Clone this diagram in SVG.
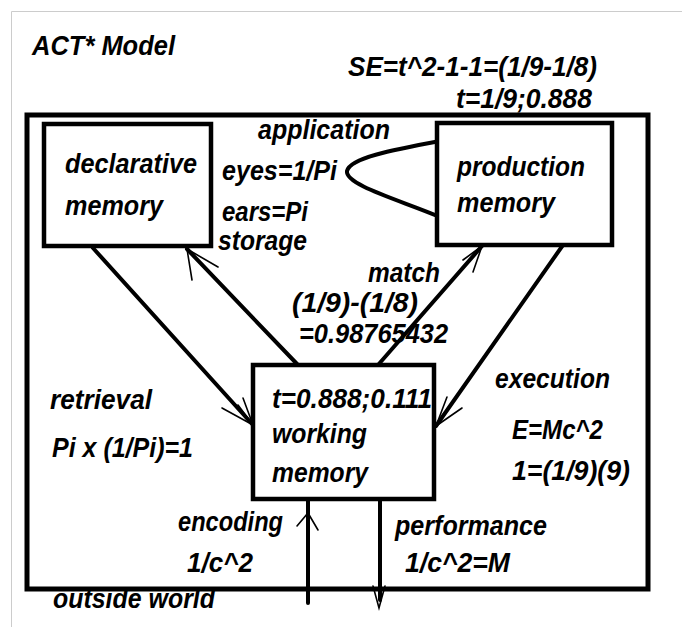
<svg xmlns="http://www.w3.org/2000/svg" width="682" height="627" viewBox="0 0 682 627">
<style>
.t{font-family:"Liberation Sans",Arial,sans-serif;font-style:italic;font-weight:bold;font-size:28px;fill:#000}
.box{fill:#fff;stroke:#000;stroke-width:4.5}
.ln{fill:none;stroke:#000;stroke-width:4;stroke-linecap:round}
.hd{fill:none;stroke:#000;stroke-width:1.6;stroke-linecap:round}
</style>
<rect x="0" y="0" width="682" height="627" fill="#fff"/>
<path d="M11.5,627 V11.5 H682" fill="none" stroke="#ccc" stroke-width="1"/>
<g id="act-frame">
<rect x="27" y="115" width="621" height="474" fill="#fff" stroke="#000" stroke-width="5"/>
</g>
<g id="connectors">
<path class="ln" d="M93,248 L253,425"/>
<path class="hd" d="M253,425 L222,408 M253,425 L243,398 M250,421 L238,405"/>
<path class="ln" d="M298,365 L187,249"/>
<path class="hd" d="M187,249 L192,280 M187,249 L218,267 M190,253 L205,268"/>
<path class="ln" d="M378,365 L482,246"/>
<path class="hd" d="M482,246 L463,260 M482,246 L473,272"/>
<path class="ln" d="M563,245 L436,426"/>
<path class="hd" d="M436,426 L447,397 M436,426 L462,408"/>
<path class="ln" d="M308,500 V603"/>
<path class="hd" d="M297,526 L308,513 L318,530" stroke-width="2"/>
<path class="ln" d="M380,500 V600"/>
<path class="hd" d="M373,586 L379,608 L385,586"/>
<path class="ln" d="M440,141 C392,150 350,158 347,171 C345,185 400,200 440,217" stroke-width="4"/>
</g>
<g id="declarative-memory">
<rect class="box" x="44" y="124" width="167" height="122"/>
<text class="t" x="65" y="173" textLength="132" lengthAdjust="spacingAndGlyphs">declarative</text>
<text class="t" x="65" y="215" textLength="98" lengthAdjust="spacingAndGlyphs">memory</text>
</g>
<g id="production-memory">
<rect class="box" x="437" y="123" width="175" height="122"/>
<text class="t" x="457" y="176" textLength="128" lengthAdjust="spacingAndGlyphs">production</text>
<text class="t" x="457" y="212" textLength="98" lengthAdjust="spacingAndGlyphs">memory</text>
</g>
<g id="working-memory">
<rect class="box" x="253" y="365" width="181" height="134"/>
<text class="t" x="272" y="408" textLength="160" lengthAdjust="spacingAndGlyphs">t=0.888;0.111</text>
<text class="t" x="272" y="443" textLength="95" lengthAdjust="spacingAndGlyphs">working</text>
<text class="t" x="272" y="482" textLength="96" lengthAdjust="spacingAndGlyphs">memory</text>
</g>
<g id="labels">
<text class="t" x="32" y="55" textLength="143" lengthAdjust="spacingAndGlyphs">ACT* Model</text>
<text class="t" x="348" y="76" textLength="249" lengthAdjust="spacingAndGlyphs">SE=t^2-1-1=(1/9-1/8)</text>
<text class="t" x="456" y="108" textLength="136" lengthAdjust="spacingAndGlyphs">t=1/9;0.888</text>
<text class="t" x="258" y="139" textLength="132" lengthAdjust="spacingAndGlyphs">application</text>
<text class="t" x="222" y="180" textLength="115" lengthAdjust="spacingAndGlyphs">eyes=1/Pi</text>
<text class="t" x="222" y="221" textLength="86" lengthAdjust="spacingAndGlyphs">ears=Pi</text>
<text class="t" x="218" y="250" textLength="89" lengthAdjust="spacingAndGlyphs">storage</text>
<text class="t" x="368" y="282" textLength="72" lengthAdjust="spacingAndGlyphs">match</text>
<text class="t" x="292" y="312" textLength="126" lengthAdjust="spacingAndGlyphs">(1/9)-(1/8)</text>
<text class="t" x="299" y="343" textLength="149" lengthAdjust="spacingAndGlyphs">=0.98765432</text>
<text class="t" x="50" y="409" textLength="102" lengthAdjust="spacingAndGlyphs">retrieval</text>
<text class="t" x="52" y="457" textLength="141" lengthAdjust="spacingAndGlyphs">Pi x (1/Pi)=1</text>
<text class="t" x="495" y="388" textLength="115" lengthAdjust="spacingAndGlyphs">execution</text>
<text class="t" x="512" y="439" textLength="91" lengthAdjust="spacingAndGlyphs">E=Mc^2</text>
<text class="t" x="512" y="480" textLength="118" lengthAdjust="spacingAndGlyphs">1=(1/9)(9)</text>
<text class="t" x="178" y="531" textLength="105" lengthAdjust="spacingAndGlyphs">encoding</text>
<text class="t" x="187" y="572" textLength="66" lengthAdjust="spacingAndGlyphs">1/c^2</text>
<text class="t" x="395" y="535" textLength="152" lengthAdjust="spacingAndGlyphs">performance</text>
<text class="t" x="405" y="572" textLength="105" lengthAdjust="spacingAndGlyphs">1/c^2=M</text>
<text class="t" x="53" y="608" textLength="162" lengthAdjust="spacingAndGlyphs">outside world</text>
</g>
</svg>
